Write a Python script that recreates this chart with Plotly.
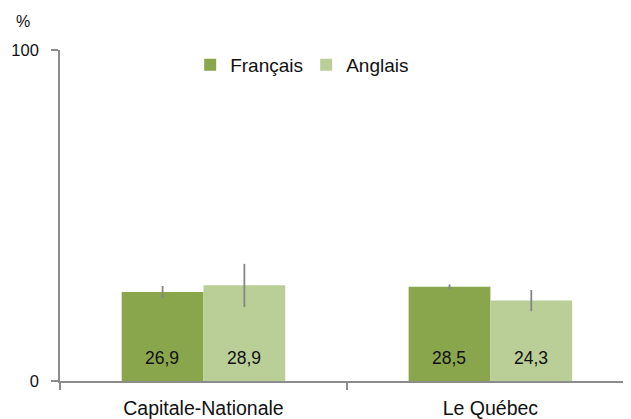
import plotly.graph_objects as go

categories = ["Capitale-Nationale", "Le Québec"]
series_names = ["Français", "Anglais"]
francais = [26.9, 28.5]
anglais = [28.9, 24.3]
francais_err = [1.8, 0.7]
anglais_err = [6.5, 3.2]
value_labels_fr = ["26,9", "28,5"]
value_labels_en = ["28,9", "24,3"]
y_ticks = [0, 100]

colors = ["#8AA64D", "#BACF97"]
FONT = "Liberation Sans, Arial, sans-serif"
INK = "#111111"

fig = go.Figure()
for name, vals, errs, col in [
    (series_names[0], francais, francais_err, colors[0]),
    (series_names[1], anglais, anglais_err, colors[1]),
]:
    fig.add_trace(go.Bar(
        name=name, x=categories, y=vals,
        marker=dict(color=col, line=dict(width=0)),
        error_y=dict(type="data", array=errs, visible=True,
                     color="#858585", thickness=1.8, width=0),
    ))

# value labels near the base of each bar
annotations = []
for labels, shift in [(value_labels_fr, -41), (value_labels_en, 41)]:
    for cat, lab in zip(categories, labels):
        annotations.append(dict(
            x=cat, y=0, xref="x", yref="y", text=lab, showarrow=False,
            xshift=shift, yshift=23, xanchor="center", yanchor="middle",
            font=dict(family=FONT, size=17.5, color=INK)))
annotations.append(dict(text="%", xref="paper", yref="paper", x=-0.065, y=1.085,
                        xanchor="center", yanchor="middle", showarrow=False,
                        font=dict(family=FONT, size=16, color=INK)))

# the page body adds an 8px offset; the figure is sized to fill the remaining window
fig.update_layout(
    width=623, height=411,
    margin=dict(l=52, r=0, t=42, b=38),
    paper_bgcolor="white", plot_bgcolor="white",
    barmode="group", bargap=0.43, bargroupgap=0,
    font=dict(family=FONT, size=19, color=INK),
    showlegend=True,
    legend=dict(orientation="h", x=0.228, y=0.955, xanchor="left", yanchor="middle",
                font=dict(family=FONT, size=19, color=INK),
                bgcolor="rgba(0,0,0,0)", itemwidth=30,
                entrywidth=71, entrywidthmode="pixels"),
    annotations=annotations,
)
fig.update_xaxes(
    range=[-0.5, 1.49], showline=True, linecolor="#8C8C8C", linewidth=1.6,
    ticks="outside", tickson="boundaries", ticklen=7, tickcolor="#8C8C8C", tickwidth=1.6,
    showgrid=False, zeroline=False, automargin=False, ticklabelstandoff=9,
    tickfont=dict(family=FONT, size=19.5, color=INK),
)
fig.update_yaxes(
    range=[0, 100], tickvals=y_ticks, ticktext=[str(v) for v in y_ticks],
    showline=True, linecolor="#8C8C8C", linewidth=1.6,
    ticks="outside", ticklen=7, tickcolor="#8C8C8C", tickwidth=1.6,
    showgrid=False, zeroline=False, ticklabelstandoff=9, automargin=False,
    tickfont=dict(family=FONT, size=16.5, color=INK),
)

fig.write_html("out.html")
